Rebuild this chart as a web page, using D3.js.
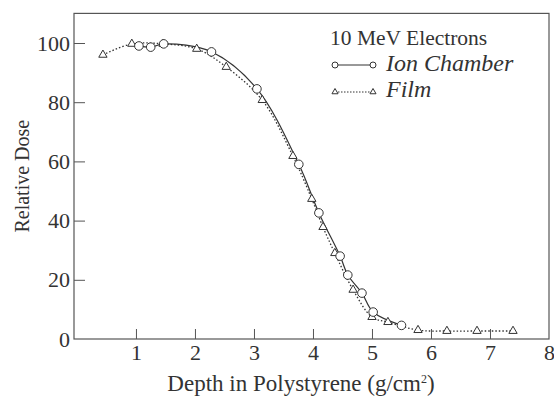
<!DOCTYPE html>
<html>
<head>
<meta charset="utf-8">
<script src="https://cdn.jsdelivr.net/npm/d3@7"></script>
<style>
  body { margin: 0; background: #fff; }
  text { font-family: "Liberation Serif", "Times New Roman", "DejaVu Serif", serif; fill: #333; }
</style>
</head>
<body>
<div id="chart"></div>
<script>
// ion chamber (circles, solid line)
const ionDepth = [1.05, 1.25, 1.47, 2.28, 3.05, 3.76, 4.10, 4.46, 4.59, 4.83, 5.02, 5.50];
const ionDose  = [99.0, 98.6, 99.7, 97.0, 84.5, 59.0, 42.6, 28.0, 21.6, 15.5, 9.1, 4.6];
// film (triangles, dotted line)
const filmDepth = [0.44, 0.93, 1.46, 2.03, 2.53, 3.14, 3.66, 3.98, 4.17, 4.37, 4.68, 5.00, 5.27, 5.78, 6.27, 6.78, 7.39];
const filmDose  = [96.0, 99.7, 99.7, 98.0, 91.9, 80.7, 61.8, 47.3, 37.8, 29.0, 16.6, 7.4, 5.7, 3.0, 2.7, 2.7, 2.7];
const xTicks = [1, 2, 3, 4, 5, 6, 7, 8];
const yTicks = [0, 20, 40, 60, 80, 100];

const width = 554, height = 398;
const ink = '#333';
const serif = '"Liberation Serif", "Times New Roman", "DejaVu Serif", serif';

const svg = d3.select('#chart').append('svg')
  .attr('width', width)
  .attr('height', height);

const x = d3.scaleLinear().domain([-0.05, 8]).range([74, 549]);
const y = d3.scaleLinear().domain([0, 110]).range([339, 13.4]);

// frame
svg.append('rect')
  .attr('x', x.range()[0]).attr('y', y.range()[1])
  .attr('width', x.range()[1] - x.range()[0])
  .attr('height', y.range()[0] - y.range()[1])
  .attr('fill', 'none').attr('stroke', '#555').attr('stroke-width', 1.2);

// axes, ticks pointing inward
const xAxis = svg.append('g')
  .attr('transform', `translate(0,${y(0)})`)
  .call(d3.axisBottom(x).tickValues(xTicks).tickSizeInner(-10).tickSizeOuter(0).tickPadding(5));
const yAxis = svg.append('g')
  .attr('transform', `translate(${x.range()[0]},0)`)
  .call(d3.axisLeft(y).tickValues(yTicks).tickSizeInner(-11).tickSizeOuter(0).tickPadding(4));

[xAxis, yAxis].forEach(g => {
  g.attr('font-family', serif);
  g.select('.domain').remove();
  g.selectAll('line').attr('stroke', '#555');
  g.selectAll('text').attr('font-size', 22).attr('fill', ink);
});
yAxis.selectAll('.tick').filter(d => d === 0).select('line').remove();
xAxis.selectAll('.tick').filter(d => d === 8).select('line').remove();

// axis titles
svg.append('text')
  .attr('transform', `translate(29,${(y(0) + y(110)) / 2}) rotate(-90)`)
  .attr('text-anchor', 'middle')
  .style('font-size', '20px')
  .text('Relative Dose');

const xt = svg.append('text')
  .attr('x', 301).attr('y', 391)
  .attr('text-anchor', 'middle')
  .style('font-size', '23px')
  .text('Depth in Polystyrene (g/cm');
xt.append('tspan').attr('dy', -8).style('font-size', '12px').text('2');
xt.append('tspan').attr('dy', 8).text(')');

// series
const ion = ionDepth.map((d, i) => ({ x: d, y: ionDose[i] }));
const film = filmDepth.map((d, i) => ({ x: d, y: filmDose[i] }));

const line = d3.line().x(d => x(d.x)).y(d => y(d.y)).curve(d3.curveCatmullRom.alpha(0.5));

svg.append('path').datum(film)
  .attr('d', line).attr('fill', 'none')
  .attr('stroke', ink).attr('stroke-width', 1.3).attr('stroke-dasharray', '1.5,2');
svg.append('path').datum(ion)
  .attr('d', line).attr('fill', 'none')
  .attr('stroke', ink).attr('stroke-width', 1.2);

const tri = d3.symbol().type(d3.symbolTriangle).size(30);
svg.append('g').selectAll('path')
  .data(film).join('path')
  .attr('d', tri)
  .attr('transform', d => `translate(${x(d.x)},${y(d.y)})`)
  .attr('fill', '#fff').attr('stroke', ink).attr('stroke-width', 1);

svg.append('g').selectAll('circle')
  .data(ion).join('circle')
  .attr('cx', d => x(d.x)).attr('cy', d => y(d.y)).attr('r', 4.3)
  .attr('fill', '#fff').attr('stroke', ink).attr('stroke-width', 1);

// legend
const lg = svg.append('g');
lg.append('text').attr('x', 330).attr('y', 45).style('font-size', '21.5px').text('10 MeV Electrons');

lg.append('line').attr('x1', 335).attr('x2', 373).attr('y1', 65).attr('y2', 65)
  .attr('stroke', ink).attr('stroke-width', 1);
[335, 373].forEach(cx => lg.append('circle').attr('cx', cx).attr('cy', 65).attr('r', 3)
  .attr('fill', '#fff').attr('stroke', ink));
lg.append('text').attr('x', 386).attr('y', 71).style('font-size', '24px')
  .style('font-style', 'italic').text('Ion Chamber');

lg.append('line').attr('x1', 335).attr('x2', 373).attr('y1', 92).attr('y2', 92)
  .attr('stroke', ink).attr('stroke-width', 1).attr('stroke-dasharray', '1.5,1.5');
[335, 373].forEach(cx => lg.append('path')
  .attr('d', d3.symbol().type(d3.symbolTriangle).size(16))
  .attr('transform', `translate(${cx},92)`)
  .attr('fill', '#fff').attr('stroke', ink));
lg.append('text').attr('x', 386).attr('y', 97).style('font-size', '24px')
  .style('font-style', 'italic').text('Film');
</script>
</body>
</html>
